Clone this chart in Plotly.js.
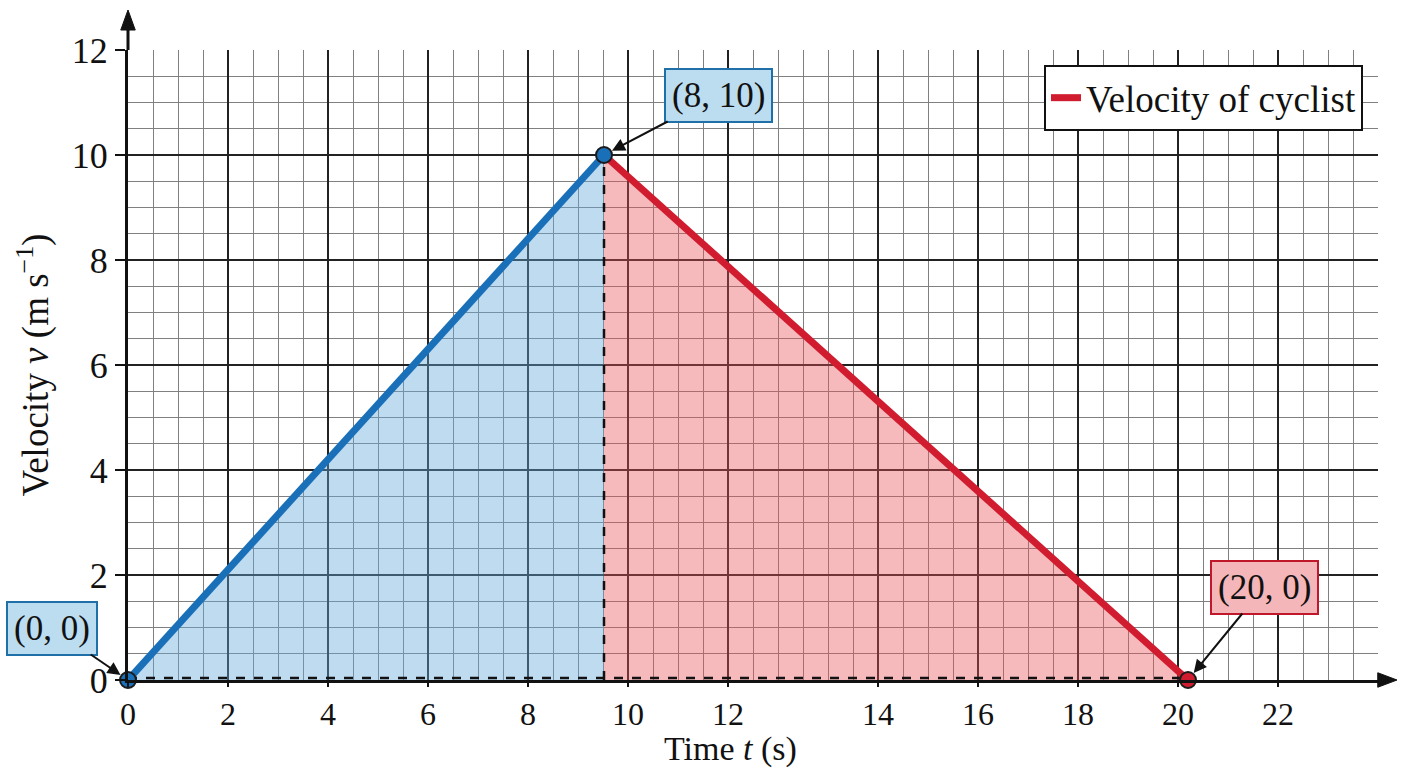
<!DOCTYPE html>
<html>
<head>
<meta charset="utf-8">
<script src="https://cdn.plot.ly/plotly-3.0.1.min.js"></script>
<style>
  html, body { margin: 0; padding: 0; background: #fff; }
  #graf { width: 1408px; height: 768px; }
</style>
</head>
<body>
<div id="graf"></div>
<script>
// tick positions on the grid and the labels printed under them
var tickPolohy = [0, 2, 4, 6, 8, 10, 12, 15, 17, 19, 21, 23];
var tickPopisy = ['0', '2', '4', '6', '8', '10', '12', '14', '16', '18', '20', '22'];
var yTicky = [0, 2, 4, 6, 8, 10, 12];

// the three corner points, as they sit on the grid
var casPolohy = [0, 9.52, 21.2];
var rychlost = [0, 10, 0];
var popisyBodov = ['(0, 0)', '(8, 10)', '(20, 0)'];

var nazovSerie = 'Velocity of cyclist';

var modra = '#1a70b8';
var cervena = '#d01c2e';
var pismo = '"Liberation Serif", "Times New Roman", serif';

function nakresliGraf() {

    var modraPlocha = {
        x: [casPolohy[0], casPolohy[1], casPolohy[1], casPolohy[0]],
        y: [rychlost[0], rychlost[1], 0, rychlost[0]],
        type: 'scatter', mode: 'lines', fill: 'toself',
        fillcolor: 'rgba(100,170,220,0.42)',
        line: {width: 0}, showlegend: false, hoverinfo: 'skip'
    };

    var cervenaPlocha = {
        x: [casPolohy[1], casPolohy[2], casPolohy[1], casPolohy[1]],
        y: [rychlost[1], rychlost[2], 0, rychlost[1]],
        type: 'scatter', mode: 'lines', fill: 'toself',
        fillcolor: 'rgba(232,80,88,0.40)',
        line: {width: 0}, showlegend: false, hoverinfo: 'skip'
    };

    var ciarkovana = {
        x: [casPolohy[0], casPolohy[2], null, casPolohy[1], casPolohy[1]],
        y: [0.04, 0.04, null, 0, rychlost[1]],
        type: 'scatter', mode: 'lines',
        line: {color: '#111', width: 2.5, dash: 'dash'},
        showlegend: false, hoverinfo: 'skip'
    };

    var zrychlenie = {
        x: casPolohy.slice(0, 2),
        y: rychlost.slice(0, 2),
        type: 'scatter', mode: 'lines',
        line: {color: modra, width: 7},
        showlegend: false
    };

    var spomalenie = {
        x: casPolohy.slice(1, 3),
        y: rychlost.slice(1, 3),
        type: 'scatter', mode: 'lines',
        name: nazovSerie,
        line: {color: cervena, width: 7}
    };

    var body = {
        x: casPolohy,
        y: rychlost,
        type: 'scatter', mode: 'markers',
        marker: {
            size: 16,
            color: [modra, modra, cervena],
            line: {color: '#1b1b1b', width: 2}
        },
        showlegend: false, cliponaxis: false
    };

    var farbyBoxov = [
        {bg: '#bcdcf0', okraj: '#1f6fa8', ax: -76, ay: -52},
        {bg: '#bcdcf0', okraj: '#1f6fa8', ax: 114, ay: -60},
        {bg: '#f4b6b8', okraj: '#c0182a', ax: 76, ay: -93}
    ];

    var poznamky = popisyBodov.map(function (text, i) {
        return {
            x: casPolohy[i], y: rychlost[i], xref: 'x', yref: 'y',
            text: text, showarrow: true,
            ax: farbyBoxov[i].ax, ay: farbyBoxov[i].ay,
            arrowhead: 2, arrowsize: 1.3, arrowwidth: 2, arrowcolor: '#111',
            standoff: 9,
            bgcolor: farbyBoxov[i].bg, bordercolor: farbyBoxov[i].okraj,
            borderwidth: 2, borderpad: 6,
            font: {family: pismo, size: 35, color: '#111'}
        };
    });

    poznamky.push({
        xref: 'paper', yref: 'paper', x: 0.4816, y: -0.1095,
        xanchor: 'center', yanchor: 'middle', showarrow: false,
        text: 'Time <i>t</i> (s)',
        font: {family: pismo, size: 34, color: '#111'}
    });

    var sipky = [
        {type: 'line', xref: 'paper', yref: 'paper', x0: 1, x1: 1.005, y0: 0, y1: 0,
            line: {color: '#111', width: 3}},
        {type: 'path', xref: 'paper', yref: 'paper',
            path: 'M 1.0152,0 L 0.9998,0.0115 L 0.9998,-0.0115 Z',
            fillcolor: '#111', line: {color: '#111', width: 1}},
        {type: 'line', xref: 'paper', yref: 'paper', x0: 0, x1: 0, y0: 1, y1: 1.04,
            line: {color: '#111', width: 3}},
        {type: 'path', xref: 'paper', yref: 'paper',
            path: 'M 0,1.0635 L 0.0058,1.0317 L -0.0058,1.0317 Z',
            fillcolor: '#111', line: {color: '#111', width: 1}}
    ];

    var layout = {
        width: 1408, height: 768,
        margin: {l: 128, r: 30, t: 50, b: 88},
        paper_bgcolor: '#fff', plot_bgcolor: '#fff',
        font: {family: pismo, size: 34, color: '#111'},
        showlegend: true,
        legend: {
            x: 0.988, y: 0.976, xanchor: 'right', yanchor: 'top',
            bgcolor: '#fff', bordercolor: '#111', borderwidth: 2,
            font: {family: pismo, size: 37, color: '#111'}
        },
        xaxis: {
            range: [0, 25], fixedrange: true,
            tickmode: 'array', tickvals: tickPolohy, ticktext: tickPopisy,
            ticks: 'outside', ticklen: 4, tickwidth: 2, tickcolor: '#111',
            showgrid: true, gridcolor: '#222', gridwidth: 1.5,
            minor: {tickmode: 'linear', tick0: 0, dtick: 0.5, showgrid: true,
                gridcolor: '#808080', gridwidth: 1, ticks: ''},
            showline: true, linecolor: '#111', linewidth: 3,
            zeroline: false,
            tickfont: {family: pismo, size: 32, color: '#111'}
        },
        yaxis: {
            range: [0, 12], fixedrange: true,
            tickmode: 'array', tickvals: yTicky,
            ticks: 'outside', ticklen: 10, tickwidth: 2, tickcolor: '#111',
            showgrid: true, gridcolor: '#222', gridwidth: 1.5,
            minor: {tickmode: 'linear', tick0: 0, dtick: 0.5, showgrid: true,
                gridcolor: '#808080', gridwidth: 1, ticks: ''},
            showline: true, linecolor: '#111', linewidth: 3,
            zeroline: false,
            tickfont: {family: pismo, size: 36, color: '#111'},
            title: {text: 'Velocity <i>v</i> (m s<sup>\u22121</sup>)', standoff: 12,
                font: {family: pismo, size: 37, color: '#111'}}
        },
        annotations: poznamky,
        shapes: sipky
    };

    Plotly.newPlot('graf', [modraPlocha, cervenaPlocha, ciarkovana, zrychlenie, spomalenie, body],
        layout, {staticPlot: true});
}

nakresliGraf();
</script>
</body>
</html>
